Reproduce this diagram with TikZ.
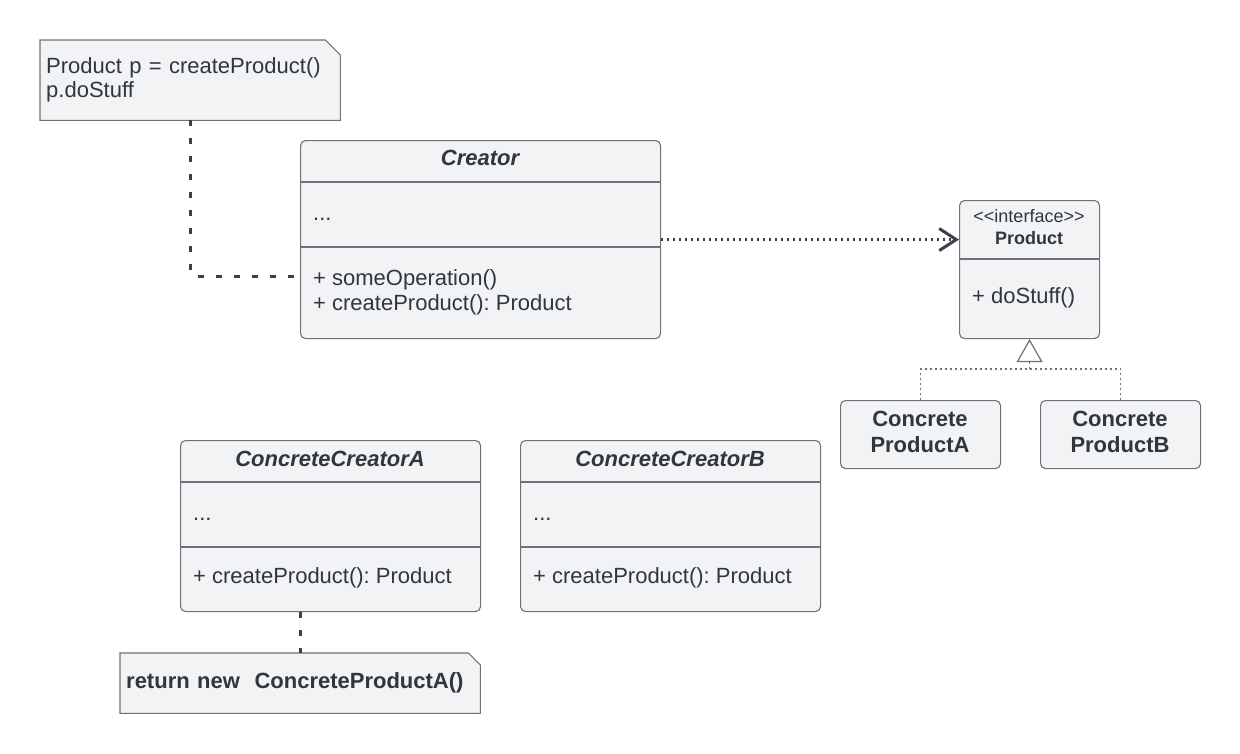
\documentclass[tikz,border=0pt]{standalone}
\usepackage{fontspec}
\setmainfont{Liberation Sans}
\usetikzlibrary{arrows.meta}
\pgfdeclarelayer{bg}
\pgfsetlayers{bg,main}
\definecolor{boxfill}{HTML}{F2F3F5}
\definecolor{boxline}{HTML}{6E7178}
\definecolor{ink}{HTML}{30353E}
\definecolor{wire}{HTML}{3A414A}
\frenchspacing

\begin{document}
\begin{tikzpicture}[x=1pt,y=-1pt,
  every node/.style={text=ink},
  classbox/.style={draw=boxline, fill=boxfill, line width=1.1pt, rounded corners=5pt,
                   anchor=north west, inner sep=0pt},
  divider/.style={draw=boxline, line width=1.1pt},
  body/.style={inner sep=0pt, font=\fontsize{22}{26}\selectfont},
  small/.style={inner sep=0pt, font=\fontsize{18}{20}\selectfont},
  notebox/.style={anchor=north west, inner xsep=6pt, inner ysep=0pt, align=left,
                  font=\fontsize{22}{24}\selectfont},
  noteline/.style={draw=boxline, fill=boxfill, line width=1.1pt},
  dashwire/.style={draw=wire, line width=3pt, dash pattern=on 6pt off 12pt, rounded corners=4pt},
  dotwire/.style={draw=wire, line width=2.4pt, dash pattern=on 2pt off 4pt},
  realize/.style={draw=boxline, line width=1.2pt, dash pattern=on 2pt off 3pt},
]
\useasboundingbox (0,0) rectangle (1240,753);

% ---------- notes ----------
\node[notebox, text width=288pt, minimum height=80pt] (note1) at (40,40)
  {Product p = createProduct()\\p.doStuff};
\node[notebox, text width=348pt, minimum height=60pt,
      font=\fontsize{22}{24}\selectfont\bfseries] (note2) at (120,653)
  {return new\ \ ConcreteProductA()};
\begin{pgfonlayer}{bg}
  \draw[noteline] (note1.north west) -- ([xshift=-15pt]note1.north east)
    -- ([yshift=-15pt]note1.north east) -- (note1.south east)
    -- (note1.south west) -- cycle;
  \draw[noteline] (note2.north west) -- ([xshift=-12pt]note2.north east)
    -- ([yshift=-12pt]note2.north east) -- (note2.south east)
    -- (note2.south west) -- cycle;
\end{pgfonlayer}

% ---------- Creator ----------
\node[classbox, minimum width=360pt, minimum height=198pt] (creator) at (300,140) {};
\draw[divider] (creator.west |- 0,182) -- (creator.east |- 0,182);
\draw[divider] (creator.west |- 0,247) -- (creator.east |- 0,247);
\node[body, anchor=base] (creatorT) at (480,165) {\bfseries\itshape Creator};
\node[body, anchor=base west] (creatorF) at (313,220) {...};
\node[body, anchor=base west] (someop) at (313,285) {+ someOperation()};
\node[body, anchor=base west] (creatorM) at (313,310) {+ createProduct(): Product};

% ---------- Product interface ----------
\node[classbox, minimum width=140pt, minimum height=138pt] (product) at (959,200) {};
\draw[divider] (product.west |- 0,259) -- (product.east |- 0,259);
\node[small, anchor=base] (prodS) at (1029,222) {<\kern0pt<interface>\kern0pt>};
\node[small, anchor=base] (prodT) at (1029,244) {\bfseries Product};
\node[body, anchor=base west] (prodM) at (972,303) {+ doStuff()};

% ---------- concrete products ----------
\node[classbox, minimum width=160pt, minimum height=68pt] (cpa) at (840,400) {};
\node[body, anchor=base, align=center] (cpaT) at (920,452) {\bfseries Concrete\\\bfseries ProductA};
\node[classbox, minimum width=160pt, minimum height=68pt] (cpb) at (1040,400) {};
\node[body, anchor=base, align=center] (cpbT) at (1120,452) {\bfseries Concrete\\\bfseries ProductB};

% ---------- concrete creators ----------
\node[classbox, minimum width=300pt, minimum height=171pt] (cca) at (180,440) {};
\draw[divider] (cca.west |- 0,482) -- (cca.east |- 0,482);
\draw[divider] (cca.west |- 0,547) -- (cca.east |- 0,547);
\node[body, anchor=base] (ccaT) at (330,466) {\bfseries\itshape ConcreteCreatorA};
\node[body, anchor=base west] (ccaF) at (193,520) {...};
\node[body, anchor=base west] (ccaM) at (193,583) {+ createProduct(): Product};

\node[classbox, minimum width=300pt, minimum height=171pt] (ccb) at (520,440) {};
\draw[divider] (ccb.west |- 0,482) -- (ccb.east |- 0,482);
\draw[divider] (ccb.west |- 0,547) -- (ccb.east |- 0,547);
\node[body, anchor=base] (ccbT) at (670,466) {\bfseries\itshape ConcreteCreatorB};
\node[body, anchor=base west] (ccbF) at (533,520) {...};
\node[body, anchor=base west] (ccbM) at (533,583) {+ createProduct(): Product};

% ---------- connectors ----------
\draw[dashwire] (note1.south) |- ([yshift=3pt]creator.west |- someop.west);
\draw[dashwire] (note2.north |- cca.south) -- (note2.north);
\draw[dotwire, -{Straight Barb[length=17pt, width=22pt, line width=3pt]}]
  (creator.east) -- (creator.east -| product.west);

\coordinate (j) at (product.south |- 0,369);
\draw[realize] (cpa.north) |- (j) -| (cpb.north);
\draw[realize, -{Triangle[length=23pt, width=26pt, fill=white]}] (j) -- (product.south);
\end{tikzpicture}
\end{document}
